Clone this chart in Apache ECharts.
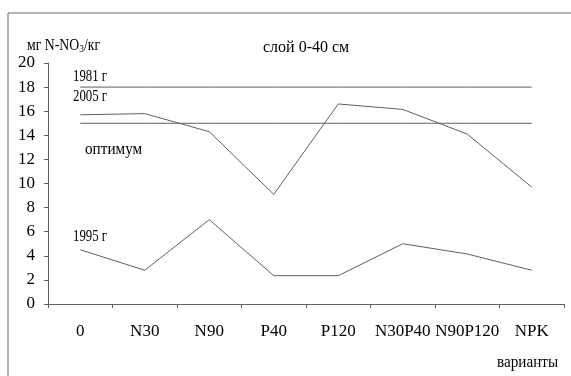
<!DOCTYPE html>
<html><head><meta charset="utf-8">
<script src="https://cdn.jsdelivr.net/npm/echarts@6/dist/echarts.min.js"></script>
<style>html,body{margin:0;padding:0;background:#fff}#c{width:571px;height:376px}</style>
</head><body><div id="c"></div>
<script>
var categories = ['0','N30','N90','P40','P120','N30P40','N90P120','NPK'];
var y2005 = [15.7, 15.8, 14.3, 9.1, 16.6, 16.15, 14.1, 9.7];
var y1995 = [4.5, 2.8, 7.0, 2.35, 2.35, 5.0, 4.15, 2.8];
var y1981 = [18, 18, 18, 18, 18, 18, 18, 18];
var optimum = [15, 15, 15, 15, 15, 15, 15, 15];

var font = 'Liberation Serif';
var lineColor = '#606060';
function ser(name, data){
  return {name:name, type:'line', data:data, symbol:'none', silent:true,
    lineStyle:{color:lineColor, width:1}};
}
function txt(s, x, y, sx){
  return {type:'text', x:x, y:y, scaleX:sx||1, style:{text:s, fontFamily:font, fontSize:16, fill:'#000'}, silent:true};
}
var chart = echarts.init(document.getElementById('c'));
chart.setOption({
  animation:false,
  grid:{left:48, right:7, top:63, bottom:72},
  xAxis:{type:'category', data:categories, boundaryGap:true,
    axisLine:{lineStyle:{color:lineColor}},
    axisTick:{show:true, length:4, lineStyle:{color:lineColor}},
    axisLabel:{color:'#000', fontFamily:font, fontSize:17, margin:19, interval:0}},
  yAxis:{type:'value', min:0, max:20, interval:2,
    splitLine:{show:false},
    axisLine:{show:true, lineStyle:{color:lineColor}},
    axisTick:{show:true, length:4, lineStyle:{color:lineColor}},
    axisLabel:{color:'#000', fontFamily:font, fontSize:17, margin:13}},
  series:[ser('1981 г', y1981), ser('оптимум', optimum), ser('2005 г', y2005), ser('1995 г', y1995)],
  graphic:[
    {type:'rect', shape:{x:8, y:13, width:600, height:400}, style:{fill:'none', stroke:'#666', lineWidth:1}, silent:true},
    {type:'text', x:27, y:36, scaleX:0.86, silent:true, style:{rich:{a:{fontFamily:font,fontSize:16,fill:'#000'},s:{fontFamily:font,fontSize:11,fill:'#000',verticalAlign:'bottom',padding:[8,0,0,0]}}, text:'{a|мг N-NO}{s|3}{a|/кг}', fontFamily:font, fontSize:16, fill:'#000'}},
    txt('слой 0-40 см', 263, 40),
    txt('1981 г', 73, 68.5, 0.8),
    txt('2005 г', 73, 89, 0.8),
    txt('оптимум', 85, 142, 0.95),
    txt('1995 г', 73, 229, 0.8),
    txt('варианты', 497, 354.5, 0.95)
  ]
});
</script></body></html>
